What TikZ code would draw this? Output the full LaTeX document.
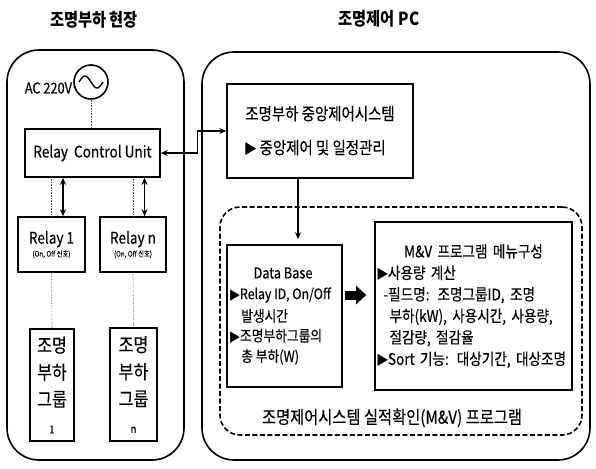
\documentclass[tikz,border=0pt]{standalone}
\usepackage{fontspec}
\setmainfont{Noto Sans CJK KR}[FakeStretch=0.85, UprightFeatures={FakeBold=0.25}]
\newfontfamily\symf{DejaVu Sans}[FakeStretch=0.85]
\newcommand\tri{{\symf ▶}}
\usetikzlibrary{arrows.meta,calc}
\begin{document}
\begin{tikzpicture}[x=1pt,y=-1pt,
  box/.style={draw,line width=1.6pt,inner sep=0pt},
  outerbox/.style={draw,line width=1.6pt,rounded corners=32pt,inner sep=0pt},
  dashbox/.style={draw,line width=1.6pt,dash pattern=on 5pt off 2.5pt,rounded corners=20pt,inner sep=0pt},
  thinline/.style={line width=0.6pt,densely dotted,black!70},
  conn/.style={line width=1.3pt},
  tipS/.tip={Stealth[length=7pt,width=6pt]},
  dbl/.style={line width=1.4pt,tipS-tipS},
  bigarrow/.style={line width=9pt,-{Triangle[length=10pt,width=18pt]}},
  ttl/.style={font=\fontsize{18}{20}\selectfont\bfseries},
  dbline/.style={anchor=west,inner sep=0pt,font=\fontsize{15}{18}\selectfont},
]
\useasboundingbox (0,0) rectangle (596,468);

% titles
\node[ttl] (t1) at (94,20) {조명부하 현장};
\node[ttl] (t2) at (379,19) {조명제어 PC};

% outer containers
\node[outerbox, minimum width=177, minimum height=410] (left) at (95.5,255) {};
\node[outerbox, minimum width=388, minimum height=408] (right) at (396,256) {};

% AC source
\node[draw, circle, line width=1.6pt, minimum size=34, inner sep=0pt] (ac) at (91,82) {};
\draw[line width=1.4pt] plot[domain=-1:1, samples=40] ({91+12*\x},{82+6*sin(180*\x)});
\node[anchor=east, font=\fontsize{15}{16}\selectfont, inner sep=1pt] (acl) at (ac.west |- 0,88) {AC 220V};

% relay control unit
\node[box, minimum width=135, minimum height=48, font=\fontsize{16}{17}\selectfont] (rcu) at (92.5,153) {Relay\ \ Control Unit};

% relays
\node[box, minimum width=67, minimum height=55, align=center] (r1) at (51.5,244.5)
  {{\fontsize{16}{18}\selectfont Relay 1}\\[1pt]{\fontsize{7.5}{9}\selectfont (On, Off 신호)}};
\node[box, minimum width=66, minimum height=55, align=center] (rn) at (133,244.5)
  {{\fontsize{16}{18}\selectfont Relay n}\\[1pt]{\fontsize{7.5}{9}\selectfont (On, Off 신호)}};

% lighting groups
\node[box, minimum width=44, minimum height=112, align=center, font=\fontsize{19}{27}\selectfont] (g1) at (52,385)
  {조명\\부하\\그룹\\{\fontsize{11}{12}\selectfont 1}};
\node[box, minimum width=47, minimum height=113, align=center, font=\fontsize{19}{27}\selectfont] (gn) at (133.5,384.5)
  {조명\\부하\\그룹\\{\fontsize{11}{12}\selectfont n}};

% thin lines
\draw[thinline] (ac.south) -- (ac.south |- rcu.north);
\draw[thinline] (r1.north) -- (r1.north |- rcu.south);
\draw[thinline] (rn.north) -- (rn.north |- rcu.south);
\draw[thinline] (r1.south) -- (g1.north);
\draw[thinline] (rn.south) -- (gn.north);

% double arrows RCU <-> relays
\draw[dbl] ([xshift=11.5pt]r1.north) -- ([xshift=11.5pt]r1.north |- rcu.south);
\draw[dbl] ([xshift=11.5pt]rn.north) -- ([xshift=11.5pt]rn.north |- rcu.south);

% central control system
\node[box, minimum width=186, minimum height=94, align=left, font=\fontsize{17}{18}\selectfont] (cs) at (320,131)
  {조명부하 중앙제어시스템\\[16pt]\tri\ 중앙제어 및 일정관리};

% RCU <-> central
\draw[conn, tipS-tipS] (rcu.east) -- ++(37,0) |- (cs.west);

% M&V dashed group
\node[dashbox, minimum width=362, minimum height=228] (mvgroup) at (401,321) {};
\node[font=\fontsize{18}{20}\selectfont] (cap) at (392,418) {조명제어시스템 실적확인(M\&V) 프로그램};

% Data base
\node[box, minimum width=115, minimum height=142] (db) at (284.5,316) {};
\node[font=\fontsize{15}{18}\selectfont, inner sep=0pt] (db0) at (283,273) {Data Base};
\node[dbline] (db1) at (230,295) {\tri{\fontsize{14.5}{18}\selectfont Relay ID, On/Off}};
\node[dbline] (db2) at (241,316) {발생시간};
\node[dbline] (db3) at (230,336) {\tri 조명부하그룹의};
\node[dbline] (db4) at (241,357) {총 부하(W)};

% M&V menu
\node[box, minimum width=197, minimum height=168, text width=192, align=left, font=\fontsize{16}{21.5}\selectfont] (mv) at (473.5,306)
  {\makebox[\linewidth][c]{M\&V 프로그램 메뉴구성}\\\tri 사용량 계산\\\mbox{\hspace{6pt}-필드명: 조명그룹ID, 조명}\\\mbox{\hspace{12pt}부하(kW), 사용시간, 사용량,}\\\mbox{\hspace{12pt}절감량, 절감율}\\\mbox{\tri Sort 기능: 대상기간, 대상조명}};

% central -> DB
\draw[conn, -tipS, shorten >=5pt] ([xshift=-22pt]cs.south) -- ([xshift=-22pt]cs.south |- db.north);

% DB => M&V
\draw[bigarrow, shorten <=2pt, shorten >=8pt] ([yshift=21pt]db.east) -- ([yshift=21pt]db.east -| mv.west);
\end{tikzpicture}
\end{document}
